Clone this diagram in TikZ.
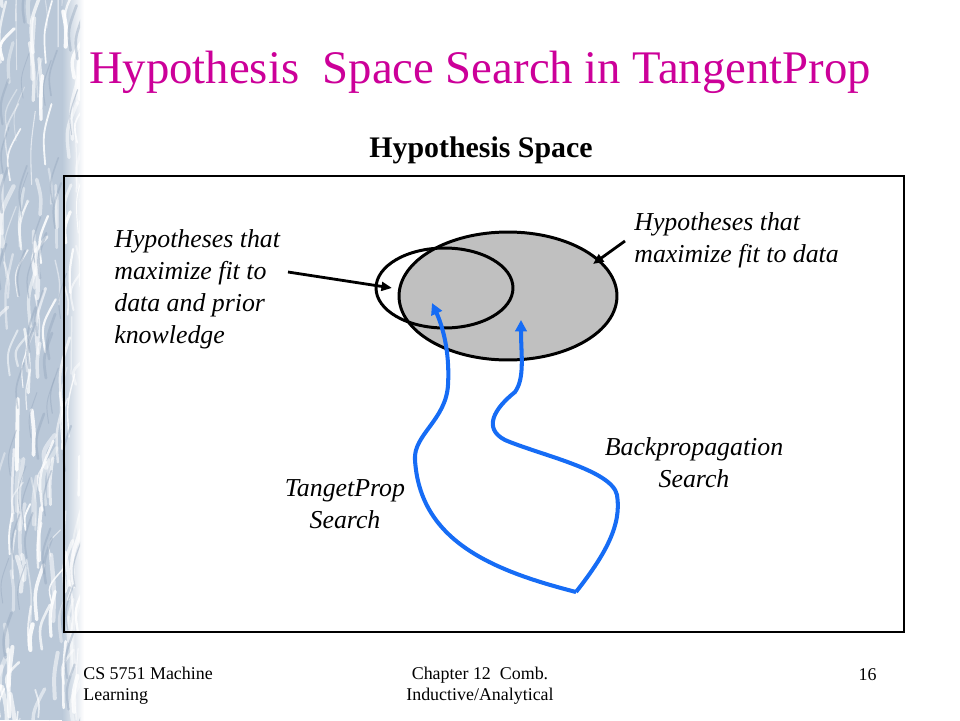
\documentclass[tikz,border=0pt]{standalone}
\usepackage{fontspec}
\setmainfont{Liberation Serif}
\usetikzlibrary{arrows.meta,shapes.geometric}

\definecolor{slidemagenta}{RGB}{204,0,153}
\definecolor{searchblue}{RGB}{22,108,245}
\definecolor{spacegray}{RGB}{192,192,192}
\definecolor{texblue}{RGB}{186,200,216}
\definecolor{texdark}{RGB}{150,168,190}

\tikzset{
  remark/.style={font=\fontsize{14.7}{18.1}\selectfont\itshape, inner sep=0pt},
  foot/.style={font=\fontsize{10.2}{11.9}\selectfont, inner sep=0pt},
  region/.style={ellipse, draw, line width=1.7pt, inner sep=0pt},
  search/.style={searchblue, line width=2.3pt, -{Triangle[length=6.5pt,width=6.5pt]}},
  pointer/.style={line width=1.6pt, -{Triangle[length=6pt,width=5pt]}}
}

\begin{document}
\begin{tikzpicture}[x=0.02cm,y=-0.02cm]
    \useasboundingbox (0,0) rectangle (960,720);

    % textured strip on the left
    \fill[texblue] (0,0) rectangle (62,720);
    \shade[left color=texblue, right color=white] (62,0) rectangle (84,720);
    \begin{scope}
      \clip (0,0) rectangle (80,720);
      \pgfmathsetseed{5}
      \foreach \k in {1,...,160}{
        \pgfmathsetmacro{\sx}{rnd*90-5}
        \pgfmathsetmacro{\sy}{rnd*780}
        \pgfmathsetmacro{\dx}{rnd*16-4}
        \pgfmathsetmacro{\dy}{25+rnd*50}
        \pgfmathsetmacro{\op}{0.35+rnd*0.55}
        \draw[white, opacity=\op, line width=0.5pt+rnd*2pt, line cap=round]
          (\sx,\sy) .. controls (\sx-\dx*0.4,\sy-\dy*0.5) .. (\sx+\dx,\sy-\dy);
      }
      \foreach \k in {1,...,50}{
        \pgfmathsetmacro{\sx}{rnd*80}
        \pgfmathsetmacro{\sy}{rnd*780}
        \draw[texdark, opacity=0.45, line width=0.4pt+rnd*1.2pt, line cap=round]
          (\sx,\sy) .. controls (\sx-3,\sy-20) .. (\sx+6,\sy-45);
      }
    \end{scope}

    % title and heading
    \node[anchor=base, text=slidemagenta, font=\fontsize{26.6}{32}\selectfont]
         (title) at (480,83) {Hypothesis\ \ Space Search in TangentProp};
    \node[anchor=base, font=\fontsize{17}{20}\selectfont\bfseries]
         (heading) at (481,157) {Hypothesis Space};

    \draw[line width=1.2pt] (64,176) rectangle (904,632);

    % hypothesis regions
    \node[region, fill=spacegray, minimum width=4.36cm, minimum height=2.56cm]
         (fitdata) at (508,296) {};
    \node[region, minimum width=2.74cm, minimum height=1.6cm]
         (fitprior) at (444.5,288) {};

    \node[remark, anchor=base west, align=left] (priortext) at (114,343)
         {Hypotheses that\\maximize fit to\\data and prior\\knowledge};
    \node[remark, anchor=base west, align=left] (datatext) at (634,262)
         {Hypotheses that\\maximize fit to data};
    \node[remark, anchor=base, align=center] (bptext) at (694,487)
         {Backpropagation\\Search};
    \node[remark, anchor=base, align=center] (tptext) at (345,528)
         {TangetProp\\Search};

    \coordinate (ltail) at (288,272);
    \coordinate (ltip) at (392,288);
    \coordinate (rtail) at (625,241);
    \coordinate (rtip) at (593,264);
    \draw[pointer] (ltail) -- (ltip);
    \draw[pointer] (rtail) -- (rtip);

    % search paths
    \coordinate (origin) at (576,592);
    \coordinate (tpend) at (432,303);
    \coordinate (bpend) at (521,320);
    \draw[search] (origin) .. controls (490,570) and (420,540) .. (415,460)
        .. controls (413,435) and (446,420) .. (448,385)
        .. controls (450,350) and (442,325) .. (tpend);
    \draw[search] (origin) .. controls (605,555) and (622,525) .. (617,495)
        .. controls (612,470) and (540,455) .. (505,440)
        .. controls (482,428) and (495,408) .. (515,392)
        .. controls (525,378) and (521,355) .. (bpend);

    % footer
    \node[foot, anchor=base west, align=left] (course) at (83,700)
         {CS 5751 Machine\\Learning};
    \node[foot, anchor=base, align=center] (chapter) at (480,700)
         {Chapter 12\ \ Comb.\\Inductive/Analytical};
    \node[foot, anchor=base east] (page) at (877,680) {16};
\end{tikzpicture}
\end{document}
